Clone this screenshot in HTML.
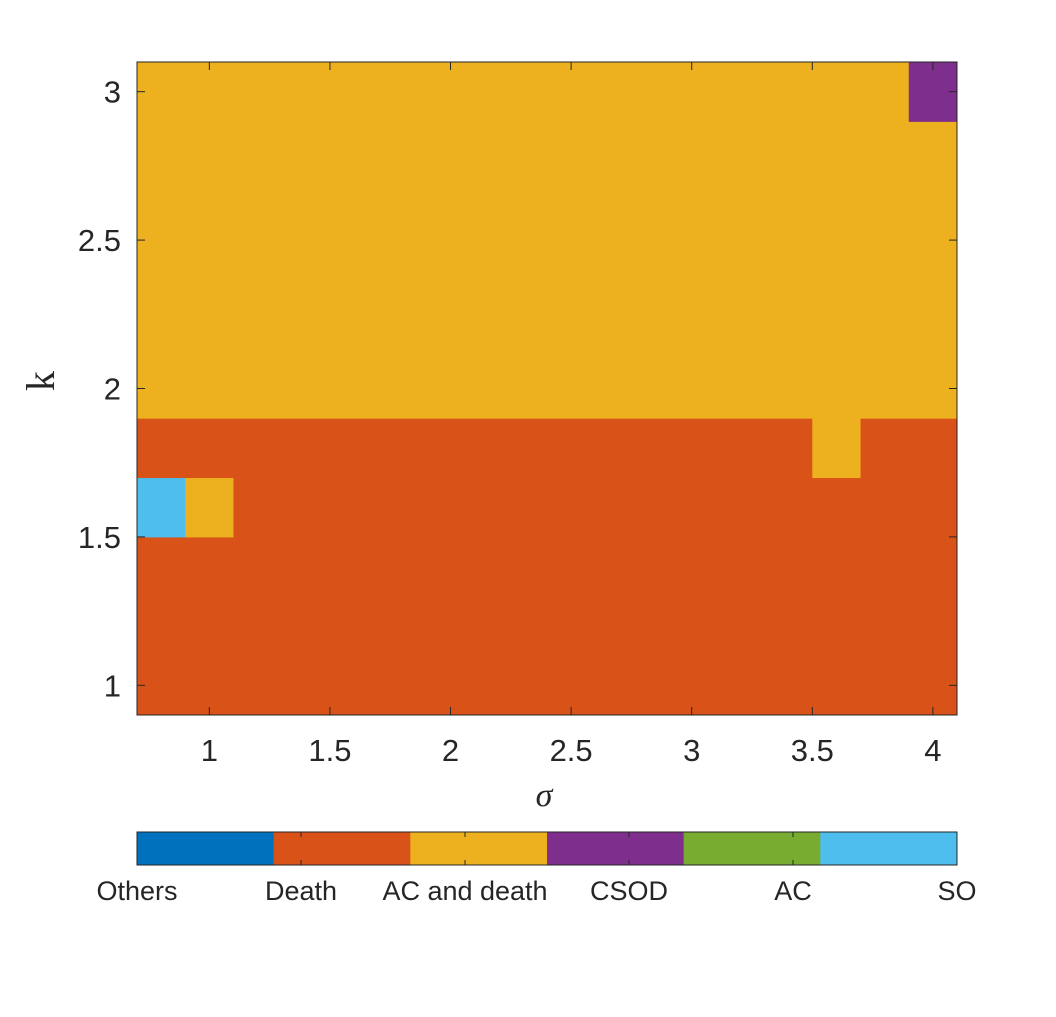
<!DOCTYPE html>
<html><head><meta charset="utf-8">
<style>
body{margin:0;background:#fff;}
svg text{font-family:"Liberation Sans",sans-serif;fill:#262626;}
</style></head>
<body>
<svg width="1056" height="1012" xmlns="http://www.w3.org/2000/svg">
<g id="cells"></g>
<g id="axes"></g>
<g id="cbar"></g>
</svg>
<script>
const sigmaVals=[0.8,1.0,1.2,1.4,1.6,1.8,2.0,2.2,2.4,2.6,2.8,3.0,3.2,3.4,3.6,3.8,4.0];
const kVals=[1.0,1.2,1.4,1.6,1.8,2.0,2.2,2.4,2.6,2.8,3.0];
const xTicks=[1,1.5,2,2.5,3,3.5,4];
const yTicks=[1,1.5,2,2.5,3];
const categories=["Others","Death","AC and death","CSOD","AC","SO"];
const catColors=["#0072BD","#D95319","#EDB120","#7E2F8E","#77AC30","#4DBEEE"];
const D=1,Y=2,P=3,S=5;
const grid=[
[D,D,D,D,D,D,D,D,D,D,D,D,D,D,D,D,D],
[D,D,D,D,D,D,D,D,D,D,D,D,D,D,D,D,D],
[D,D,D,D,D,D,D,D,D,D,D,D,D,D,D,D,D],
[S,Y,D,D,D,D,D,D,D,D,D,D,D,D,D,D,D],
[D,D,D,D,D,D,D,D,D,D,D,D,D,D,Y,D,D],
[Y,Y,Y,Y,Y,Y,Y,Y,Y,Y,Y,Y,Y,Y,Y,Y,Y],
[Y,Y,Y,Y,Y,Y,Y,Y,Y,Y,Y,Y,Y,Y,Y,Y,Y],
[Y,Y,Y,Y,Y,Y,Y,Y,Y,Y,Y,Y,Y,Y,Y,Y,Y],
[Y,Y,Y,Y,Y,Y,Y,Y,Y,Y,Y,Y,Y,Y,Y,Y,Y],
[Y,Y,Y,Y,Y,Y,Y,Y,Y,Y,Y,Y,Y,Y,Y,Y,Y],
[Y,Y,Y,Y,Y,Y,Y,Y,Y,Y,Y,Y,Y,Y,Y,Y,P]
];
const NS="http://www.w3.org/2000/svg";
const L=137,R=957,T=62,B=715;
const x=v=>L+(v-0.7)/(4.1-0.7)*(R-L);
const y=v=>B-(v-0.9)/(3.1-0.9)*(B-T);
function mk(tag,attrs,parent){const e=document.createElementNS(NS,tag);for(const k in attrs)e.setAttribute(k,attrs[k]);parent.appendChild(e);return e;}
const cells=document.getElementById('cells');
grid.forEach((row,i)=>row.forEach((c,j)=>{
 const r=mk('rect',{x:x(sigmaVals[j]-0.1),y:y(kVals[i]+0.1),width:x(sigmaVals[j]+0.1)-x(sigmaVals[j]-0.1)+0.5,height:y(kVals[i]-0.1)-y(kVals[i]+0.1)+0.5,fill:catColors[c]},cells);
 
 
}));
const ax=document.getElementById('axes');
const box=mk('rect',{x:L,y:T,width:R-L,height:B-T,fill:'none',stroke:'#262626','stroke-width':1},ax);


xTicks.forEach(v=>{
 mk('line',{x1:x(v),x2:x(v),y1:B,y2:B-8,stroke:'#262626'},ax);
 mk('line',{x1:x(v),x2:x(v),y1:T,y2:T+8,stroke:'#262626'},ax);
 const t=mk('text',{x:x(v),y:B+46,'text-anchor':'middle','font-size':31},ax);
 t.textContent=v;
 
 
});
yTicks.forEach(v=>{
 mk('line',{x1:L,x2:L+8,y1:y(v),y2:y(v),stroke:'#262626'},ax);
 mk('line',{x1:R,x2:R-8,y1:y(v),y2:y(v),stroke:'#262626'},ax);
 const t=mk('text',{x:L-16,y:y(v)+11,'text-anchor':'end','font-size':31},ax);
 t.textContent=v;
 
 
});
const xl=mk('text',{x:544,y:806,'text-anchor':'middle',style:'font-size:34px;font-style:italic;font-family:"Liberation Serif",serif'},ax);
xl.textContent='σ';


const yl=mk('text',{x:0,y:0,'text-anchor':'middle',style:'font-size:40px;font-family:"Liberation Serif",serif',transform:'translate(54,381) rotate(-90)'},ax);
yl.textContent='k';


const cb=document.getElementById('cbar');
const cL=137,cR=957,cT=832,cB=865,n=categories.length,w=(cR-cL)/n;
categories.forEach((c,i)=>{
 const r=mk('rect',{x:cL+i*w,y:cT,width:w+0.5,height:cB-cT,fill:catColors[i]},cb);
 
 
 const tx=cL+i*(cR-cL)/(n-1);
 mk('line',{x1:tx,x2:tx,y1:cB,y2:cB-5,stroke:'#262626'},cb);
 mk('line',{x1:tx,x2:tx,y1:cT,y2:cT+5,stroke:'#262626'},cb);
 const t=mk('text',{x:tx,y:900,'text-anchor':'middle','font-size':27},cb);
 t.textContent=c;
 
 
});
const cf=mk('rect',{x:cL,y:cT,width:cR-cL,height:cB-cT,fill:'none',stroke:'#262626'},cb);


</script>
</body></html>
